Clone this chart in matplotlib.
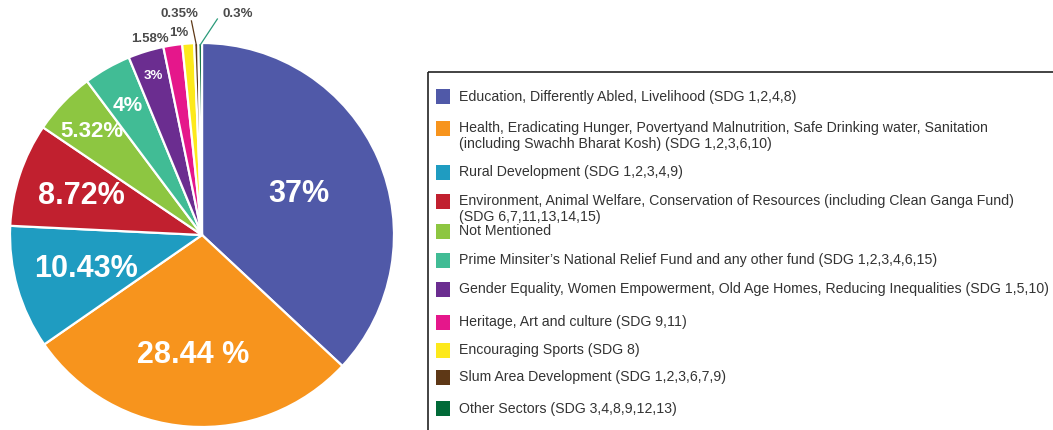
import numpy as np
import matplotlib.pyplot as plt
from matplotlib.patches import Rectangle

# CSR spend share by sector (percent), clockwise from the top
sectors = [
    "Education, Differently Abled, Livelihood (SDG 1,2,4,8)",
    "Health, Eradicating Hunger, Povertyand Malnutrition, Safe Drinking water, Sanitation\n(including Swachh Bharat Kosh) (SDG 1,2,3,6,10)",
    "Rural Development (SDG 1,2,3,4,9)",
    "Environment, Animal Welfare, Conservation of Resources (including Clean Ganga Fund)\n(SDG 6,7,11,13,14,15)",
    "Not Mentioned",
    "Prime Minsiter\u2019s National Relief Fund and any other fund (SDG 1,2,3,4,6,15)",
    "Gender Equality, Women Empowerment, Old Age Homes, Reducing Inequalities (SDG 1,5,10)",
    "Heritage, Art and culture (SDG 9,11)",
    "Encouraging Sports (SDG 8)",
    "Slum Area Development (SDG 1,2,3,6,7,9)",
    "Other Sectors (SDG 3,4,8,9,12,13)",
]
shares = [37, 28.44, 10.43, 8.72, 5.32, 4, 3, 1.58, 1, 0.35, 0.3]
colors = ["#5059a8", "#f7941d", "#1f9cc1", "#c1202f", "#8dc641", "#41bc95",
          "#6b2d90", "#e5178b", "#fde91b", "#5e3816", "#016a38"]

pct_text = [f"{v:g}%" for v in shares]
pct_text[1] = "28.44 %"

# labels inside the wedges: distance from centre along the mid angle
inner_r = [0.55, 0.62, 0.63, 0.66, 0.79, 0.78, 0.87]
inner_size = [22, 22, 22, 22, 16, 15, 9.5]

# small wedges get their labels above the rim (pie units, right-aligned)
outer_pos = [(-0.175, 1.025), (-0.07, 1.058), (-0.02, 1.155), (0.265, 1.155)]
leader_from = [None, None, (-0.055, 1.115), (0.08, 1.125)]
leader_col = [None, None, "#5e3816", "#2a9a7a"]

W, H = 1053, 431
fig = plt.figure(figsize=(W / 100, H / 100), dpi=100)

# full-figure pixel axes for the legend box
lax = fig.add_axes([0, 0, 1, 1])
lax.set_xlim(0, W)
lax.set_ylim(H, 0)
lax.axis("off")

# pie, centre (202, 236) px, radius 192 px
cx, cy, r = 202, 236, 192
ax = fig.add_axes([(cx - r) / W, (H - cy - r) / H, 2 * r / W, 2 * r / H])
wedges, _ = ax.pie(shares, colors=colors, startangle=90, counterclock=False,
                   wedgeprops=dict(edgecolor="white", linewidth=1.6))
ax.set_xlim(-1, 1)
ax.set_ylim(-1, 1)

n_in = len(inner_r)
for w, txt, rr, s in zip(wedges[:n_in], pct_text[:n_in], inner_r, inner_size):
    mid = np.radians((w.theta1 + w.theta2) / 2)
    ax.text(rr * np.cos(mid), rr * np.sin(mid), txt, ha="center", va="center",
            fontsize=s, color="white", fontweight="bold", family="Liberation Sans")

for w, txt, (x, y), lf, lc in zip(wedges[n_in:], pct_text[n_in:], outer_pos,
                                  leader_from, leader_col):
    ax.text(x, y, txt, ha="right", va="center", fontsize=9.5, color="#4a4a4a",
            fontweight="bold", family="Liberation Sans", clip_on=False)
    if lf is not None:
        mid = np.radians((w.theta1 + w.theta2) / 2)
        ax.plot([lf[0], np.cos(mid) * 0.99], [lf[1], np.sin(mid) * 0.99],
                color=lc, lw=0.9, clip_on=False)

# legend
lax.add_patch(Rectangle((428, 73), 700, 400, fill=False, edgecolor="#222222", lw=1.2))
row_y = [97, 129, 173, 202, 232, 261, 290, 323, 351, 378, 410]
for name, col, y in zip(sectors, colors, row_y):
    lax.add_patch(Rectangle((436, y - 7.5), 14, 15, facecolor=col, edgecolor="none"))
    lax.text(459, y - 7.5, name, ha="left", va="top", fontsize=10.2, color="#333333",
             family="Liberation Sans", linespacing=1.16)

fig.savefig("out.png", dpi=100)
